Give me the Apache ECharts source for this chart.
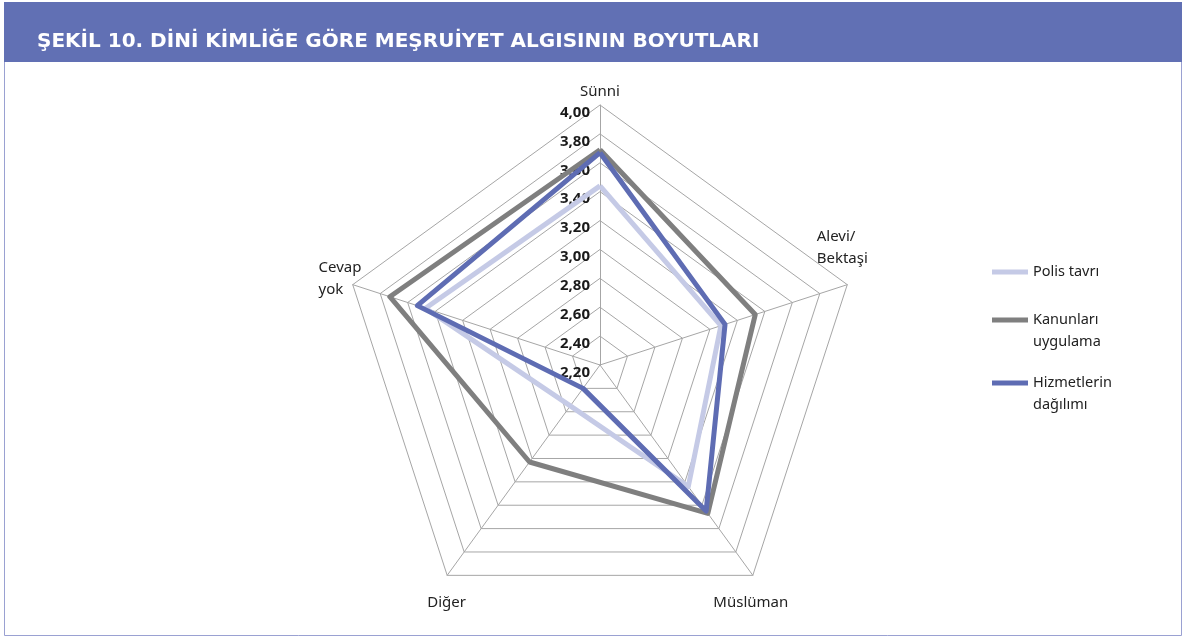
<!DOCTYPE html>
<html>
<head>
<meta charset="utf-8">
<script src="https://cdn.jsdelivr.net/npm/echarts@6/dist/echarts.min.js"></script>
<style>
  html, body { margin: 0; padding: 0; background: #fff; }
  #chart { width: 1186px; height: 638px; }
</style>
</head>
<body>
<div id="chart"></div>
<script>
// indicator order as echarts lays them out (counter-clockwise from the top)
var categories = ['Sünni', 'Cevap\nyok', 'Diğer', 'Müslüman', 'Alevi/\nBektaşi'];
var polisTavri = [3.44, 3.47, 2.55, 3.24, 3.08];
var kanunlariUygulama = [3.69, 3.73, 3.03, 3.47, 3.33];
var hizmetlerinDagilimi = [3.67, 3.53, 2.40, 3.45, 3.11];
var seriesNames = ['Polis tavrı', 'Kanunları uygulama', 'Hizmetlerin dağılımı'];
var legendLabels = ['Polis tavrı', ' \nKanunları\nuygulama', ' \nHizmetlerin\ndağılımı'];
var axisMin = 2.2, axisMax = 4.0;

var colors = ['#c5cae6', '#7f7f7f', '#5e6cb3'];
var font = '"Noto Sans", "Open Sans", sans-serif';

var myChart = echarts.init(document.getElementById('chart'));

// where each indicator name sits around its corner
var nameLayout = [
    { gap: 13, style: { align: 'center', verticalAlign: 'middle' } },
    { gap: 36, style: { align: 'left', verticalAlign: 'middle', padding: [11, 0, 0, 0] } },
    { gap: 34, style: { align: 'left', verticalAlign: 'middle' } },
    { gap: 34, style: { align: 'center', verticalAlign: 'middle', padding: [0, 44, 0, 0] } },
    { gap: 10, style: { align: 'center', verticalAlign: 'bottom', padding: [0, 29, 12, 0] } }
];

var indicators = categories.map(function (name, i) {
    var ind = {
        name: name, min: axisMin, max: axisMax,
        nameGap: nameLayout[i].gap,
        nameTextStyle: nameLayout[i].style
    };
    if (i === 0) ind.axisLabel = { show: true }; // tick labels only on the top axis
    return ind;
});

function mkSeries(name, values, color) {
    return {
        type: 'radar',
        name: name,
        symbol: 'none',
        lineStyle: { color: color, width: 5 },
        itemStyle: { color: color },
        data: [{ name: name, value: values }]
    };
}

function mkLegend(idx, top) {
    return {
        data: [seriesNames[idx]],
        left: 987,
        top: top,
        orient: 'vertical',
        icon: 'rect',
        itemWidth: 36,
        itemHeight: 5,
        formatter: function () { return legendLabels[idx]; },
        textStyle: { fontSize: 14.5, lineHeight: 22, color: '#222', fontFamily: font }
    };
}

var option = {
    animation: false,
    graphic: [
        { type: 'rect', shape: { x: 4.5, y: 2.5, width: 1177, height: 633 },
          style: { fill: '#fff', stroke: '#9aa1d2', lineWidth: 1 }, z: -10 },
        { type: 'rect', shape: { x: 4, y: 2, width: 1178, height: 60 },
          style: { fill: '#6170b4' }, z: -9 }
    ],
    title: {
        text: 'ŞEKİL 10. DİNİ KİMLİĞE GÖRE MEŞRUİYET ALGISININ BOYUTLARI',
        left: 32,
        top: 27,
        textStyle: { color: '#fff', fontSize: 20, fontWeight: 'bold', fontFamily: '"DejaVu Sans", sans-serif' }
    },
    legend: [mkLegend(0, 256), mkLegend(1, 282), mkLegend(2, 345)],
    radar: {
        center: [600, 365],
        radius: 260,
        startAngle: 90,
        shape: 'polygon',
        splitNumber: 9,
        indicator: indicators,
        axisName: {
            color: '#222', fontSize: 15, lineHeight: 22, fontFamily: font,
            formatter: function (name) {
                return name.split('\n').map(function (s) { return '{l|' + s + '}'; }).join('\n');
            },
            rich: { l: { align: 'left', fontSize: 15, lineHeight: 22, color: '#222', fontFamily: font } }
        },
        splitLine: { lineStyle: { color: '#a6a6a6', width: 1 } },
        splitArea: { show: false },
        axisLine: { lineStyle: { color: '#a6a6a6', width: 1 } },
        axisTick: { show: false },
        axisLabel: {
            show: false,
            color: '#1a1a1a',
            fontSize: 15,
            fontWeight: 'bold',
            fontFamily: font,
            margin: 10,
            verticalAlign: 'top',
            showMinLabel: true,
            formatter: function (v) { return v.toFixed(2).replace('.', ','); }
        }
    },
    series: [
        mkSeries(seriesNames[0], polisTavri, colors[0]),
        mkSeries(seriesNames[1], kanunlariUygulama, colors[1]),
        mkSeries(seriesNames[2], hizmetlerinDagilimi, colors[2])
    ]
};

myChart.setOption(option);
</script>
</body>
</html>
